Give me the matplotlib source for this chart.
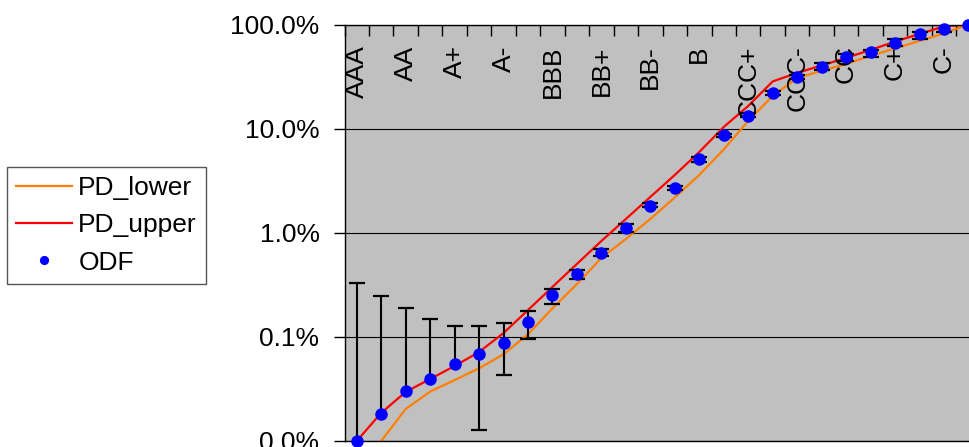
import numpy as np
import matplotlib
matplotlib.use("Agg")
import matplotlib.pyplot as plt
from matplotlib.ticker import FuncFormatter, NullLocator

plt.rcParams['font.family'] = ['Liberation Sans', 'DejaVu Sans']

grades = ['AAA', 'AA+', 'AA', 'AA-', 'A+', 'A', 'A-', 'BBB+', 'BBB', 'BBB-',
          'BB+', 'BB', 'BB-', 'B+', 'B', 'B-', 'CCC+', 'CCC', 'CCC-',
          'CC+', 'CC', 'CC-', 'C+', 'C', 'C-', 'D']

# observed default frequency per grade
odf = [0.0001, 0.00018, 0.0003, 0.00039, 0.00055, 0.00069, 0.00088, 0.0014,
       0.0025, 0.0040, 0.0064, 0.0112, 0.0181, 0.0267, 0.0512, 0.0866,
       0.1324, 0.2218, 0.3104, 0.394, 0.483, 0.543, 0.665, 0.804, 0.914, 1.0]

# confidence bounds of the ODF (nan = bound not shown on the log axis)
odf_hi = [0.0033, 0.00249, 0.00188, 0.00149, 0.00127, 0.00127, 0.00136,
          0.00177, 0.00287, 0.00439, 0.00704, 0.01215, 0.0192, 0.02816,
          0.05383, 0.0889, 0.1406, 0.2302, 0.3281, 0.4247, 0.52, 0.57,
          0.7224, 0.8547, 0.9912, np.nan]
odf_lo = [np.nan, np.nan, np.nan, np.nan, np.nan, 0.000127, 0.000431,
          0.000961, 0.00206, 0.0036, 0.00599, 0.01025, 0.01758, 0.02577,
          0.04819, 0.0838, 0.1287, 0.2107, 0.2982, 0.3664, 0.45, 0.4917,
          0.6228, 0.7224, 0.8547, np.nan]

pd_upper = [0.0001, 0.000186, 0.000296, 0.000394, 0.000525, 0.000716,
            0.00109, 0.00181, 0.00302, 0.00502, 0.00834, 0.01357, 0.02208,
            0.0359, 0.0597, 0.1038, 0.1652, 0.2841, 0.3429, 0.4047, 0.4777,
            0.5702, 0.6849, 0.8123, 0.959, 1.0]
pd_lower = [np.nan, 0.0001, 0.000203, 0.000298, 0.000385, 0.000499,
            0.000681, 0.00106, 0.00188, 0.00322, 0.00573, 0.00872, 0.01357,
            0.02183, 0.0359, 0.0631, 0.1186, 0.2061, 0.3069, 0.3584, 0.4182,
            0.4994, 0.5895, 0.6959, 0.8214, 1.0]

x = np.arange(len(grades))
odf = np.array(odf)
hi = np.array(odf_hi)
lo = np.array(odf_lo)

FS = 19

fig = plt.figure(figsize=(9.69, 4.47), dpi=100)
W, H = 969, 447
ax = fig.add_axes([344.5 / W, (H - 441) / H, (980.7 - 344.5) / W, (441 - 24.5) / H])
ax.set_facecolor('#C0C0C0')

ax.set_yscale('log')
ax.set_ylim(1e-4, 1.0)
ax.set_xlim(-0.5, len(grades) - 0.5)

# horizontal gridlines at each decade
for v in [1e-4, 1e-3, 1e-2, 1e-1, 1.0]:
    ax.axhline(v, color='black', lw=0.8, zorder=1)

ax.set_yticks([1e-4, 1e-3, 1e-2, 1e-1, 1.0])
ax.yaxis.set_minor_locator(NullLocator())
ax.yaxis.set_major_formatter(FuncFormatter(lambda v, p: f"{v * 100:.1f}%"))
ax.tick_params(axis='y', direction='out', length=8, width=1, pad=10,
               labelsize=FS, colors='black')

# category axis sits on top, ticks between categories
ax.xaxis.tick_top()
ax.set_xticks(np.arange(-0.5, len(grades), 1.0))
ax.set_xticklabels([])
ax.tick_params(axis='x', direction='in', length=8, width=1, top=True,
               bottom=False)
for i in range(0, len(grades), 2):
    ax.annotate(grades[i], xy=(x[i], 1), xycoords=('data', 'axes fraction'),
                xytext=(0, -15), textcoords='offset points', rotation=90,
                ha='center', va='top', fontsize=FS)

for s in ax.spines.values():
    s.set_color('black')
    s.set_linewidth(1)

l_lower, = ax.plot(x, pd_lower, color='#FF7F00', lw=1.6, zorder=2)
l_upper, = ax.plot(x, pd_upper, color='#FF0000', lw=1.6, zorder=2)

# error bars: stem plus caps
bottom = np.where(np.isnan(lo), odf, lo)
ok = ~np.isnan(hi)
ax.vlines(x[ok], bottom[ok], hi[ok], color='black', lw=1.5, zorder=3)
ax.plot(x[ok], hi[ok], ls='none', marker='_', ms=11.5, mew=1.6,
        color='black', zorder=3)
has_lo = ~np.isnan(lo)
ax.plot(x[has_lo], lo[has_lo], ls='none', marker='_', ms=11.5, mew=1.6,
        color='black', zorder=3)

dots, = ax.plot(x, odf, ls='none', marker='o', ms=8, color='#0000FF',
                mec='#0000FF', zorder=4, clip_on=False)

leg = fig.legend([l_lower, l_upper, dots], ['PD_lower', 'PD_upper', 'ODF'],
                 loc='upper left', bbox_to_anchor=(7 / W, 1 - 167 / H),
                 fontsize=FS, frameon=True, fancybox=False, framealpha=1,
                 edgecolor='#555555', handlelength=2.1, handletextpad=0.25,
                 labelspacing=0.5, borderpad=0.35, borderaxespad=0,
                 markerscale=0.7)
leg.get_frame().set_linewidth(1)

fig.savefig('out.png', dpi=100)
